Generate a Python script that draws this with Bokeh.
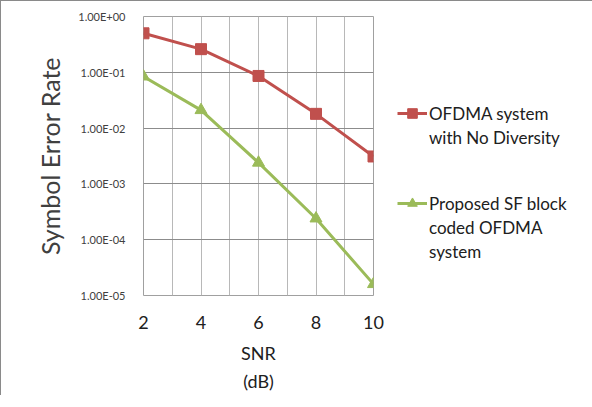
from bokeh.plotting import figure
from bokeh.models import FixedTicker, Legend, LegendItem, Range1d
from bokeh.embed import file_html
from bokeh.resources import INLINE

snr = [2, 4, 6, 8, 10]
ser_no_div = [0.50, 0.26, 0.086, 0.018, 0.0031]
ser_sf = [0.084, 0.021, 0.0024, 0.00024, 0.000016]
y_ticks = [1e-5, 1e-4, 1e-3, 1e-2, 1e-1, 1]
y_labels = ["1.00E-05", "1.00E-04", "1.00E-03", "1.00E-02", "1.00E-01", "1.00E+00"]
x_ticks = [2, 4, 6, 8, 10]
x_grid = [2, 3, 4, 5, 6, 7, 8, 9, 10]
legend1_lines = ["OFDMA system", "with No Diversity"]
legend2_lines = ["Proposed SF block", "coded OFDMA", "system"]

FONT = "Lato"
TXT = "#404040"
RED = "#C0504D"
GREEN = "#9BBB59"

p = figure(output_backend="svg", toolbar_location=None, y_axis_type="log",
           frame_width=230, frame_height=279,
           min_border_left=142, min_border_top=15, min_border_right=208, min_border_bottom=95,
           x_range=Range1d(2, 10), y_range=Range1d(1e-5, 1))
p.styles = {"border-left": "1px solid #8a8a8a", "border-top": "1px solid #8a8a8a"}
p.background_fill_color = "white"
p.border_fill_color = "white"
p.outline_line_color = "#a0a0a0"

p.xaxis.ticker = FixedTicker(ticks=x_ticks)
p.yaxis.ticker = FixedTicker(ticks=y_ticks)
p.yaxis.major_label_overrides = {t: l for t, l in zip(y_ticks, y_labels)}
p.xgrid.ticker = FixedTicker(ticks=x_grid)
p.ygrid.ticker = FixedTicker(ticks=y_ticks)
p.xgrid.grid_line_color = "#b8b8b8"
p.ygrid.grid_line_color = "#8c8c8c"

for ax in (p.xaxis, p.yaxis):
    ax.axis_line_color = None
    ax.major_tick_line_color = None
    ax.minor_tick_line_color = None
    ax.major_label_text_font = FONT
    ax.axis_label_text_font = FONT
    ax.axis_label_text_font_style = "normal"
    ax.axis_label_text_color = TXT

p.yaxis.major_label_text_font_size = "11px"
p.yaxis.major_label_text_color = TXT
p.yaxis.major_label_standoff = 12
p.yaxis.axis_label = "Symbol Error Rate"
p.yaxis.axis_label_text_font_size = "25px"
p.yaxis.axis_label_standoff = 10

p.xaxis.major_label_text_font_size = "18px"
p.xaxis.major_label_text_color = "#202020"
p.xaxis.major_label_standoff = 14
p.xaxis.axis_label = "SNR\n(dB)"
p.xaxis.axis_label_text_font_size = "18px"
p.xaxis.axis_label_text_color = "#202020"
p.xaxis.axis_label_text_line_height = 1.3
p.xaxis.axis_label_standoff = 10

l1 = p.line(snr, ser_no_div, line_color=RED, line_width=3)
m1 = p.scatter(snr, ser_no_div, marker="square", size=11, fill_color=RED, line_color=RED)
l2 = p.line(snr, ser_sf, line_color=GREEN, line_width=3)
m2 = p.scatter(snr, ser_sf, marker="triangle", size=12, fill_color=GREEN, line_color=GREEN)
blank = p.line(x=[], y=[], line_alpha=0)

items = [LegendItem(label=legend1_lines[0], renderers=[l1, m1])]
items += [LegendItem(label=t, renderers=[blank]) for t in legend1_lines[1:]]
items += [LegendItem(label="\u200b\n\u200b", renderers=[blank])]
items += [LegendItem(label=legend2_lines[0], renderers=[l2, m2])]
items += [LegendItem(label=t, renderers=[blank]) for t in legend2_lines[1:]]

legend = Legend(items=items, location=(24, 32), border_line_color=None, background_fill_alpha=0,
                label_text_font=FONT, label_text_font_size="17px", label_text_color="#202020",
                label_text_line_height=1.06,
                glyph_width=30, glyph_height=24, label_height=24, label_standoff=2,
                spacing=0, padding=0, margin=0)
p.add_layout(legend, "right")

open("out.html", "w").write(file_html(p, INLINE))
